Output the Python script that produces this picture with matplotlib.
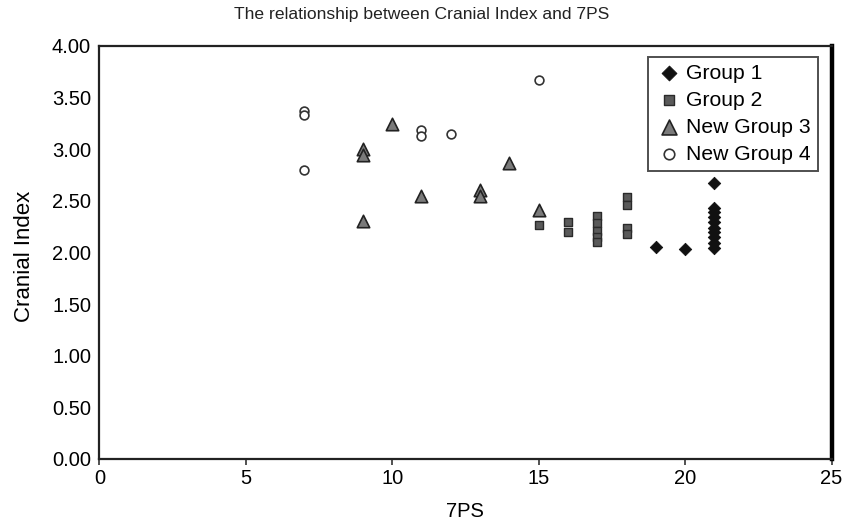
import matplotlib
matplotlib.use("Agg")
import matplotlib.pyplot as plt

plt.rcParams['font.family'] = ['Liberation Sans', 'DejaVu Sans']

# Group 1
g1_x = [19, 20, 21, 21, 21, 21, 21, 21, 21, 21, 21, 21]
g1_y = [2.05, 2.03, 2.67, 2.43, 2.39, 2.34, 2.29, 2.24, 2.20, 2.15, 2.09, 2.04]

# Group 2
g2_x = [15, 16, 16, 17, 17, 17, 17, 17, 18, 18, 18, 18]
g2_y = [2.26, 2.29, 2.20, 2.35, 2.28, 2.21, 2.15, 2.10, 2.54, 2.46, 2.24, 2.18]

# New Group 3
g3_x = [9, 9, 9, 10, 11, 13, 13, 14, 15]
g3_y = [3.00, 2.94, 2.30, 3.24, 2.55, 2.60, 2.55, 2.86, 2.41]

# New Group 4
g4_x = [7, 7, 7, 11, 11, 12, 15]
g4_y = [3.37, 3.33, 2.80, 3.18, 3.13, 3.15, 3.67]

fig = plt.figure(figsize=(8.44, 5.23), dpi=100)
ax = fig.add_axes([0.1177, 0.1224, 0.8675, 0.7902])

ax.scatter(g1_x, g1_y, marker='D', s=40, color='#111111', edgecolors='#111111',
           linewidths=0.6, label='Group 1', zorder=3)
ax.scatter(g2_x, g2_y, marker='s', s=40, color='#5a5a5a', edgecolors='#2a2a2a',
           linewidths=1.0, label='Group 2', zorder=3)
ax.scatter(g3_x, g3_y, marker='^', s=80, color='#7a7a7a', edgecolors='#222222',
           linewidths=1.2, label='New Group 3', zorder=3)
ax.scatter(g4_x, g4_y, marker='o', s=40, color='white', edgecolors='#333333',
           linewidths=1.2, label='New Group 4', zorder=3)

ax.set_xlim(0, 25)
ax.set_ylim(0, 4)
ax.set_xticks([0, 5, 10, 15, 20, 25])
ax.set_yticks([0, 0.5, 1.0, 1.5, 2.0, 2.5, 3.0, 3.5, 4.0])
ax.set_yticklabels([f"{v:.2f}" for v in ax.get_yticks()])
ax.tick_params(axis='x', direction='out', length=4, width=1.2, labelsize=14.5, pad=3, color='#333333')
ax.tick_params(axis='y', direction='out', length=0, labelsize=14.5, pad=6)

for side in ['left', 'bottom', 'top']:
    ax.spines[side].set_linewidth(1.6)
    ax.spines[side].set_color('#222222')
ax.spines['right'].set_linewidth(3.2)
ax.spines['right'].set_color('black')

ax.set_xlabel('7PS', fontsize=14.5)
ax.set_ylabel('Cranial Index', fontsize=16)
ax.xaxis.set_label_coords(0.5, -0.104)
ax.yaxis.set_label_coords(-0.088, 0.49)
fig.text(0.5, 0.973, 'The relationship between Cranial Index and 7PS',
         ha='center', va='center', fontsize=12.6, color='#222222')

leg = ax.legend(loc='upper right', bbox_to_anchor=(0.981, 0.973), fontsize=15.2,
                frameon=True, fancybox=False, handletextpad=0.2,
                borderpad=0.33, labelspacing=0.38, handlelength=1.25,
                borderaxespad=0.0, markerscale=1.2)
leg.get_frame().set_edgecolor('#222222')
leg.get_frame().set_linewidth(1.4)

fig.savefig('out.png', dpi=100)
